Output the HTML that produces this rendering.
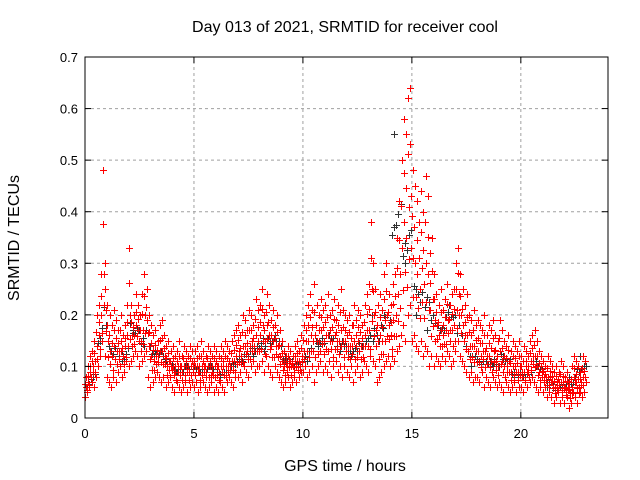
<!DOCTYPE html>
<html><head><meta charset="utf-8"><style>
body{margin:0;background:#fff}
svg{display:block;font-family:"Liberation Sans",sans-serif}
</style></head><body>
<svg id="chart" width="640" height="480">
<text x="345" y="32" text-anchor="middle" font-size="16">Day 013 of 2021, SRMTID for receiver cool</text>
<text x="345" y="471" text-anchor="middle" font-size="16">GPS time / hours</text>
<text transform="translate(19,238) rotate(-90)" text-anchor="middle" font-size="16">SRMTID / TECUs</text>
<g id="grid"></g><g id="pts"></g><g id="axes"></g>
</svg>
<script>
const xTicks=[0,5,10,15,20];
const yTicks=[0,0.1,0.2,0.3,0.4,0.5,0.6,0.7];
const yTickLabels=["0","0.1","0.2","0.3","0.4","0.5","0.6","0.7"];
const redHi=[.08,.10,.12,.13,.15,.20,.22,.28,.48,.30,.22,.20,.18,.21,.19,.17,.20,.16,.18,.22,.33,.22,.20,.24,.22,.20,.24,.28,.25,.20,.18,.16,.17,.15,.18,.19,.16,.14,.15,.13,.14,.12,.13,.15,.12,.14,.13,.12,.14,.13,.13,.14,.12,.15,.13,.12,.14,.13,.12,.14,.13,.12,.14,.13,.15,.14,.13,.15,.16,.17,.18,.16,.20,.19,.17,.21,.20,.18,.23,.21,.22,.25,.20,.24,.22,.19,.21,.18,.20,.17,.15,.13,.12,.14,.13,.12,.14,.15,.13,.16,.18,.20,.22,.24,.21,.26,.22,.20,.23,.21,.22,.24,.20,.21,.23,.19,.22,.25,.21,.20,.19,.20,.18,.22,.19,.21,.20,.18,.22,.24,.26,.38,.30,.25,.22,.24,.21,.28,.30,.24,.22,.26,.28,.35,.42,.50,.58,.55,.62,.64,.48,.45,.42,.38,.44,.40,.47,.43,.32,.35,.28,.24,.22,.25,.21,.23,.26,.22,.24,.25,.30,.33,.28,.25,.22,.24,.20,.19,.21,.18,.19,.18,.17,.20,.16,.18,.17,.19,.16,.15,.19,.17,.15,.14,.16,.13,.15,.14,.13,.15,.12,.14,.13,.12,.15,.16,.17,.15,.13,.12,.11,.10,.12,.11,.10,.09,.10,.09,.11,.10,.08,.09,.07,.10,.12,.11,.10,.09,.12,.11];
const redMid=[.06,.07,.09,.10,.11,.14,.16,.20,.28,.21,.15,.13,.12,.14,.13,.13,.15,.12,.14,.16,.20,.16,.16,.18,.17,.15,.17,.20,.19,.14,.12,.11,.12,.12,.13,.13,.12,.10,.11,.10,.10,.09,.10,.10,.09,.10,.10,.09,.10,.10,.10,.10,.09,.10,.10,.09,.10,.10,.09,.10,.10,.09,.10,.10,.10,.10,.10,.11,.11,.12,.13,.12,.14,.14,.13,.14,.15,.14,.16,.15,.16,.18,.15,.18,.16,.14,.15,.14,.14,.12,.11,.10,.10,.11,.10,.10,.11,.11,.10,.12,.13,.15,.15,.16,.15,.16,.15,.15,.17,.15,.16,.16,.15,.15,.16,.15,.15,.17,.15,.15,.14,.14,.14,.15,.14,.15,.14,.14,.16,.17,.17,.25,.20,.17,.15,.16,.15,.19,.20,.18,.16,.19,.20,.24,.28,.33,.38,.35,.41,.43,.31,.30,.28,.25,.29,.26,.30,.28,.21,.23,.19,.18,.16,.17,.16,.17,.19,.17,.17,.18,.21,.24,.20,.18,.16,.16,.14,.14,.14,.13,.13,.12,.13,.13,.12,.12,.11,.13,.11,.10,.13,.11,.10,.10,.11,.09,.10,.10,.09,.10,.09,.09,.10,.09,.11,.12,.12,.10,.09,.09,.08,.08,.08,.08,.07,.06,.07,.07,.07,.07,.05,.06,.05,.06,.08,.07,.06,.07,.08,.08];
const redLo=[.04,.05,.06,.07,.06,.08,.10,.12,.15,.12,.08,.07,.06,.08,.07,.09,.10,.08,.09,.11,.10,.11,.12,.13,.12,.10,.11,.12,.13,.08,.06,.07,.08,.09,.08,.07,.08,.06,.07,.08,.06,.05,.07,.06,.05,.06,.07,.05,.06,.07,.06,.07,.05,.06,.07,.06,.05,.06,.07,.05,.06,.05,.07,.06,.05,.07,.08,.07,.06,.08,.08,.09,.07,.10,.09,.08,.10,.11,.09,.10,.10,.11,.09,.12,.10,.09,.08,.10,.09,.08,.07,.06,.07,.08,.06,.07,.08,.07,.08,.09,.09,.10,.08,.09,.10,.07,.09,.10,.11,.09,.10,.09,.11,.08,.10,.11,.09,.10,.08,.10,.09,.08,.10,.07,.09,.10,.08,.09,.11,.10,.09,.12,.11,.10,.07,.08,.09,.10,.11,.12,.10,.12,.11,.13,.14,.16,.18,.15,.20,.22,.15,.16,.14,.13,.15,.12,.14,.13,.10,.12,.10,.12,.11,.10,.12,.11,.13,.12,.10,.11,.13,.15,.12,.11,.10,.09,.08,.09,.07,.08,.08,.07,.09,.06,.08,.07,.06,.08,.07,.06,.07,.06,.05,.07,.06,.05,.06,.07,.05,.06,.06,.05,.07,.06,.07,.08,.07,.06,.05,.06,.05,.06,.04,.05,.04,.03,.04,.05,.03,.04,.03,.04,.02,.03,.05,.04,.03,.05,.04,.05];
const blackV=[.06,.15,.13,.11,.17,.14,.13,.11,.09,.10,.09,.10,.08,.10,.11,.12,.13,.16,.12,.10,.11,.14,.16,.13,.12,.14,.15,.20,.55,.30,.20,.17,.18,.22,.12,.10,.09,.10,.12,.08,.07,.10,.06,.05,.08,.12];
const X0=85,X1=608,Y0=418,Y1=57,XMAX=24,YMAX=0.7;
const sx=v=>X0+(X1-X0)*v/XMAX, sy=v=>Y0-(Y0-Y1)*v/YMAX;
const NS="http://www.w3.org/2000/svg";
function mk(t,a,p){const e=document.createElementNS(NS,t);for(const k in a)e.setAttribute(k,a[k]);p.appendChild(e);return e;}
const grid=document.getElementById('grid'),axes=document.getElementById('axes'),pts=document.getElementById('pts');
xTicks.forEach((t,i)=>{const x=sx(t);
 if(t>0){const g=mk('line',{x1:x,x2:x,y1:Y0,y2:Y1,stroke:'#a0a0a0','stroke-dasharray':'3,3'},grid);
 
 }
 mk('line',{x1:x,x2:x,y1:Y0,y2:Y0-6,stroke:'#000'},axes);mk('line',{x1:x,x2:x,y1:Y1,y2:Y1+6,stroke:'#000'},axes);
 const l=mk('text',{x:x,y:Y0+20,'text-anchor':'middle','font-size':13},axes);l.textContent=t;
 
 });
yTicks.forEach((t,i)=>{const y=sy(t);
 if(t>0&&t<YMAX){const g=mk('line',{x1:X0,x2:X1,y1:y,y2:y,stroke:'#a0a0a0','stroke-dasharray':'3,3'},grid);
 
 }
 mk('line',{x1:X0,x2:X0+6,y1:y,y2:y,stroke:'#000'},axes);mk('line',{x1:X1,x2:X1-6,y1:y,y2:y,stroke:'#000'},axes);
 const l=mk('text',{x:X0-7,y:y+5,'text-anchor':'end','font-size':13},axes);l.textContent=yTickLabels[i];
 
 });
const fr=mk('rect',{x:X0,y:Y1,width:X1-X0,height:Y0-Y1,fill:'none',stroke:'#000'},axes);


function plus(t,v,c){const x=Math.round(sx(t))+.5,y=Math.round(sy(v))+.5;
 const p=mk('path',{d:`M${x-3.5} ${y}H${x+3.5}M${x} ${y-3.5}V${y+3.5}`,stroke:c,'stroke-width':1},pts);
 
 }
blackV.forEach((v,i)=>plus(i*0.5+0.2,v,'#333'));
redMid.forEach((v,i)=>plus(i*0.1+0.08,(v+blackV[Math.min(blackV.length-1,Math.floor(i/5))])/2,'#333'));
redLo.forEach((v,i)=>plus(i*0.1,v,'#f00'));
redMid.forEach((v,i)=>plus(i*0.1+0.05,v,'#f00'));
redHi.forEach((v,i)=>plus(i*0.1+0.03,v,'#f00'));
redLo.forEach((v,i)=>plus(i*0.1+0.07,(v+redMid[i])/2+0.004,'#f00'));
redHi.forEach((v,i)=>plus(i*0.1+0.02,(v+redMid[i])/2-0.004,'#f00'));
</script>
</body></html>
